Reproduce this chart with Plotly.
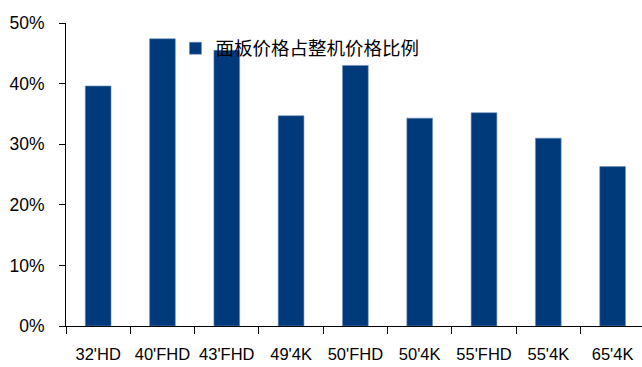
import plotly.graph_objects as go

categories = ["32'HD", "40'FHD", "43'FHD", "49'4K", "50'FHD", "50'4K", "55'FHD", "55'4K", "65'4K"]
panel_share = [39.6, 47.4, 45.5, 34.7, 43.0, 34.3, 35.2, 31.0, 26.3]
series_name = "面板价格占整机价格比例"
y_ticks = [0, 10, 20, 30, 40, 50]
y_tick_labels = ["0%", "10%", "20%", "30%", "40%", "50%"]

fig = go.Figure()
fig.add_trace(go.Bar(
    x=categories,
    y=panel_share,
    name=series_name,
    width=0.4,
    marker=dict(color="#003A7A", line=dict(color="#6F8FB8", width=0.6)),
    showlegend=True,
))

fig.update_layout(
    width=642, height=367,
    margin=dict(l=66, r=0, t=23, b=41, autoexpand=False),
    paper_bgcolor="white", plot_bgcolor="white",
    font=dict(family="Liberation Sans, Arial", size=17, color="black"),
    showlegend=True,
    legend=dict(
        x=0.19, y=0.915, xanchor="left", yanchor="middle",
        bgcolor="rgba(0,0,0,0)",
        font=dict(family="Noto Sans CJK SC", size=18.5, color="black"),
        itemwidth=30,
    ),
    bargap=0.6,
)
fig.update_xaxes(
    type="category",
    range=[-0.5, 8.457],
    showline=True, linecolor="black", linewidth=1,
    ticks="outside", ticklen=7, tickcolor="black", tickwidth=1,
    tickson="boundaries",
    showgrid=False, zeroline=False,
    tickfont=dict(size=16.5),
    tickangle=0,
    automargin=False,
    ticklabelstandoff=13,
)
fig.update_yaxes(
    range=[0, 50],
    tickvals=y_ticks, ticktext=y_tick_labels,
    showline=True, linecolor="black", linewidth=1,
    ticks="outside", ticklen=6, tickcolor="black", tickwidth=1,
    showgrid=False, zeroline=False,
    tickfont=dict(size=17.5),
    automargin=False,
    ticklabelstandoff=11,
)

fig.write_html("out.html")
